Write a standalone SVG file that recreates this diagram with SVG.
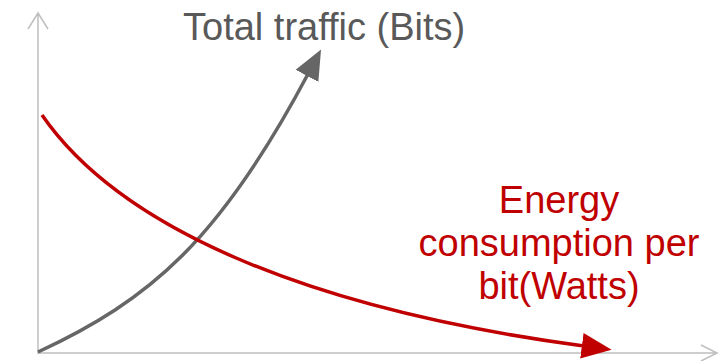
<svg xmlns="http://www.w3.org/2000/svg" width="723" height="361" viewBox="0 0 723 361">
<style>
.axis{stroke:#bfbfbf;stroke-width:1.5;fill:none}
.lbl{font-family:"Liberation Sans",Arial,sans-serif;font-size:38px}
</style>
<defs>
<marker id="mg" markerUnits="userSpaceOnUse" markerWidth="30" markerHeight="30" refX="2" refY="12" orient="auto" viewBox="0 0 28 24">
<path d="M0,0 L28,12 L0,24 Z" fill="#666666"/>
</marker>
<marker id="mr" markerUnits="userSpaceOnUse" markerWidth="30" markerHeight="30" refX="2" refY="12" orient="auto" viewBox="0 0 28 24">
<path d="M0,0 L28,12 L0,24 Z" fill="#c00000"/>
</marker>
</defs>
<g id="axes">
<path class="axis" d="M38,354 V13 M28,29 L38,13 L48,29"/>
<path class="axis" d="M38,353 H717 M701,345 L717,353 L701,361"/>
</g>
<g id="connectors">
<path d="M38,352 C150,300 220,240 308,74" stroke="#666666" stroke-width="3.5" fill="none" marker-end="url(#mg)"/>
<path d="M42,115 C118,225 300,308 584,346" stroke="#c00000" stroke-width="3.5" fill="none" marker-end="url(#mr)"/>
</g>
<g id="traffic">
<text class="lbl" x="183" y="40" fill="#595959">Total traffic (Bits)</text>
</g>
<g id="energy">
<text class="lbl" fill="#c00000" text-anchor="middle"><tspan x="559" y="213">Energy</tspan><tspan x="559" y="256">consumption per</tspan><tspan x="559" y="299">bit(Watts)</tspan></text>
</g>
</svg>
